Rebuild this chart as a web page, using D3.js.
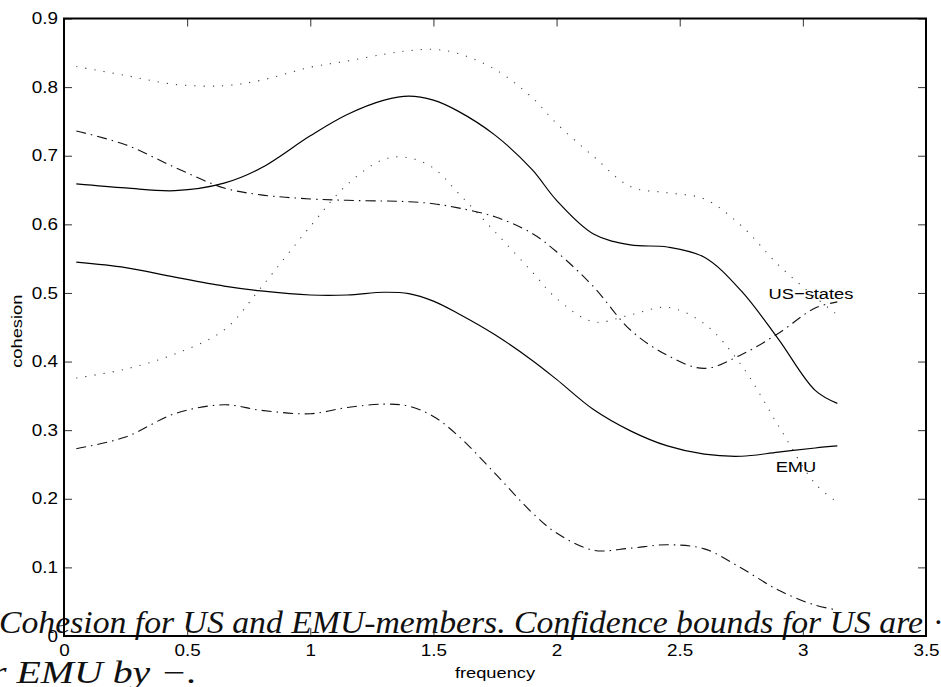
<!DOCTYPE html>
<html>
<head>
<meta charset="utf-8">
<script src="https://cdn.jsdelivr.net/npm/d3@7"></script>
<style>
  body { margin: 0; background: #fff; }
  svg { display: block; }
</style>
</head>
<body>
<script>
const width = 941;
const height = 687;
const margin = { left: 64, right: 15, top: 18.5, bottom: 51 };

// frequency grid (shared by every curve)
const freq = [0.05, 0.25, 0.45, 0.65, 0.8, 1.0, 1.15, 1.3, 1.4, 1.5, 1.6, 1.75, 1.9, 2.0, 2.15, 2.3, 2.45, 2.6, 2.75, 2.9, 3.05, 3.14];

// US-states cohesion and its confidence bounds (dotted)
const usStates = [0.659, 0.653, 0.649, 0.660, 0.682, 0.729, 0.760, 0.781, 0.787, 0.781, 0.765, 0.730, 0.680, 0.635, 0.586, 0.570, 0.567, 0.552, 0.503, 0.433, 0.358, 0.339];
const usUpper  = [0.830, 0.817, 0.804, 0.802, 0.810, 0.829, 0.838, 0.848, 0.853, 0.855, 0.849, 0.826, 0.785, 0.747, 0.699, 0.655, 0.646, 0.637, 0.598, 0.541, 0.494, 0.468];
const usLower  = [0.376, 0.389, 0.411, 0.446, 0.508, 0.597, 0.658, 0.695, 0.697, 0.682, 0.646, 0.589, 0.531, 0.492, 0.458, 0.468, 0.479, 0.455, 0.395, 0.307, 0.222, 0.195];

// EMU cohesion and its confidence bounds (dash-dot)
const emu      = [0.545, 0.537, 0.523, 0.510, 0.503, 0.497, 0.497, 0.501, 0.499, 0.488, 0.470, 0.439, 0.402, 0.374, 0.330, 0.299, 0.277, 0.265, 0.262, 0.268, 0.274, 0.277];
const emuUpper = [0.736, 0.716, 0.683, 0.653, 0.643, 0.637, 0.635, 0.634, 0.633, 0.630, 0.624, 0.611, 0.587, 0.560, 0.509, 0.446, 0.409, 0.390, 0.410, 0.441, 0.478, 0.487];
const emuLower = [0.273, 0.290, 0.324, 0.337, 0.329, 0.324, 0.333, 0.338, 0.335, 0.320, 0.292, 0.237, 0.180, 0.150, 0.125, 0.128, 0.133, 0.127, 0.099, 0.067, 0.045, 0.038];

const xTicks = [0, 0.5, 1, 1.5, 2, 2.5, 3, 3.5];
const yTicks = [0, 0.1, 0.2, 0.3, 0.4, 0.5, 0.6, 0.7, 0.8, 0.9];

const TEXT_STRETCH = 1.18; // tick labels in the picture are a bit wide

const svg = d3.select('body').append('svg')
    .attr('width', width)
    .attr('height', height);

const x = d3.scaleLinear().domain([0, 3.5]).range([margin.left, width - margin.right]);
const y = d3.scaleLinear().domain([0, 0.9]).range([height - margin.bottom, margin.top]);

// caption text from the page underneath the figure
const caption = svg.append('g')
    .style('font-family', '"Liberation Serif", serif')
    .style('font-style', 'italic')
    .style('font-size', '31px')
    .attr('fill', '#111');
caption.append('text')
    .attr('x', -1).attr('y', 633)
    .attr('textLength', 924).attr('lengthAdjust', 'spacingAndGlyphs')
    .text('Cohesion for US and EMU-members. Confidence bounds for US are');
caption.append('text')
    .attr('x', 934).attr('y', 633)
    .text('·');
caption.append('text')
    .attr('x', -9).attr('y', 683)
    .attr('textLength', 206).attr('lengthAdjust', 'spacingAndGlyphs')
    .text('r EMU by −.');

// curves
const line = d3.line()
    .x(d => x(d[0]))
    .y(d => y(d[1]))
    .curve(d3.curveCatmullRom.alpha(0.5));

const series = [
    { values: usUpper,  dash: '1.2,8',      color: '#444', w: 1.1 },
    { values: usLower,  dash: '1.2,8',      color: '#444', w: 1.1 },
    { values: emuUpper, dash: '10,5,1.5,5', color: '#111', w: 1.1 },
    { values: emuLower, dash: '10,5,1.5,5', color: '#111', w: 1.1 },
    { values: usStates, dash: null,         color: '#000', w: 1.2 },
    { values: emu,      dash: null,         color: '#000', w: 1.2 }
];

svg.append('g').selectAll('path')
    .data(series)
    .enter()
    .append('path')
    .attr('d', s => line(freq.map((f, i) => [f, s.values[i]])))
    .attr('fill', 'none')
    .attr('stroke', s => s.color)
    .attr('stroke-width', s => s.w)
    .attr('stroke-dasharray', s => s.dash);

// axes, ticks pointing inwards on all four sides
const plotH = y(0) - y(0.9);
const plotW = x(3.5) - x(0);

const bottom = svg.append('g')
    .attr('transform', `translate(0,${y(0)})`)
    .call(d3.axisBottom(x).tickValues(xTicks).tickSize(-8).tickPadding(9).tickFormat(d => String(d)));
const left = svg.append('g')
    .attr('transform', `translate(${x(0)},0)`)
    .call(d3.axisLeft(y).tickValues(yTicks).tickSize(-8).tickPadding(14).tickFormat(d => String(d)));
svg.append('g')
    .attr('transform', `translate(0,${y(0.9)})`)
    .call(d3.axisTop(x).tickValues(xTicks).tickSize(-8).tickFormat(''));
svg.append('g')
    .attr('transform', `translate(${x(3.5)},0)`)
    .call(d3.axisRight(y).tickValues(yTicks).tickSize(-8).tickFormat(''));

svg.selectAll('.domain').remove();
svg.selectAll('.tick line').attr('stroke', '#333').attr('stroke-width', 1);
svg.selectAll('.tick text')
    .attr('fill', '#000')
    .style('font-family', '"Liberation Sans", Arial, sans-serif')
    .style('font-size', '16px');
bottom.selectAll('.tick text').attr('transform', `scale(${TEXT_STRETCH},1)`);
left.selectAll('.tick text')
    .attr('x', -6 / TEXT_STRETCH)
    .attr('transform', `scale(${TEXT_STRETCH},1)`);

svg.append('rect')
    .attr('x', x(0)).attr('y', y(0.9))
    .attr('width', plotW).attr('height', plotH)
    .attr('fill', 'none')
    .attr('stroke', '#000')
    .attr('stroke-width', 2);

// axis titles and curve labels
function label(px, py, str, rotate) {
    svg.append('text')
        .attr('transform', `translate(${px},${py})` + (rotate ? ' rotate(-90)' : '') + ` scale(${TEXT_STRETCH},1)`)
        .attr('text-anchor', 'middle')
        .style('font-family', '"Liberation Sans", Arial, sans-serif')
        .style('font-size', '15.5px')
        .attr('fill', '#000')
        .text(str);
}
label((x(0) + x(3.5)) / 2, 678, 'frequency', false);
label(22, (y(0) + y(0.9)) / 2 + 4, 'cohesion', true);
label(x(3.033), y(0.491), 'US−states', false);
label(x(2.972), y(0.239), 'EMU', false);
</script>
</body>
</html>
